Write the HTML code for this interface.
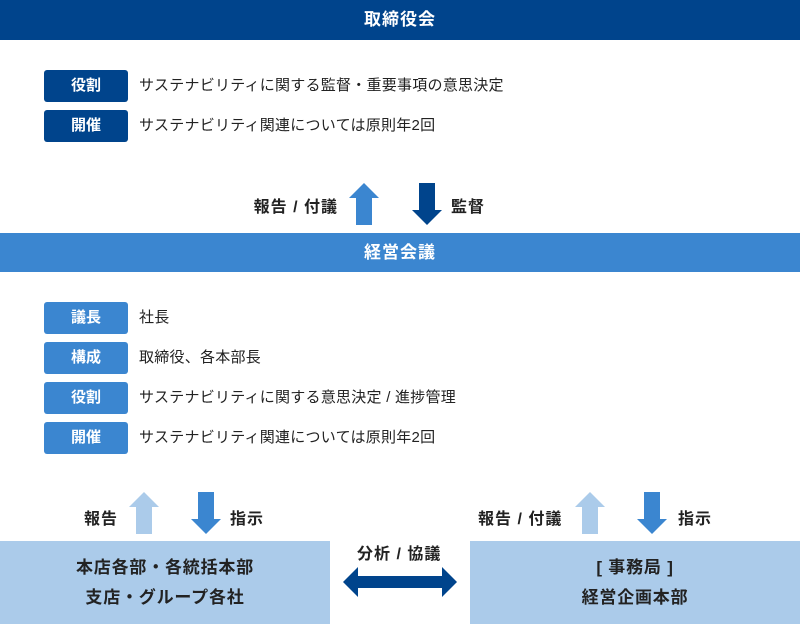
<!DOCTYPE html>
<html><head><meta charset="utf-8"><style>
body{margin:0;width:800px;height:624px;position:relative;background:#fff;font-family:"Liberation Sans","Noto Sans CJK JP",sans-serif;overflow:hidden}
.bar{position:absolute;left:0;width:800px;color:#fff;font-weight:bold;font-size:17px;letter-spacing:1px;text-align:center}
.lab{position:absolute;left:44px;width:84px;height:32px;line-height:32px;color:#fff;font-weight:bold;font-size:15px;text-align:center;border-radius:3px}
.txt{position:absolute;left:139px;font-size:15px;letter-spacing:0.25px;color:#222;line-height:32px;white-space:nowrap}
.t{position:absolute;font-size:16px;letter-spacing:1px;font-weight:bold;color:#222;white-space:nowrap}
.box{position:absolute;top:541px;width:330px;height:83px;background:#abcbea;font-size:17px;letter-spacing:0.8px;font-weight:bold;color:#222;text-align:center;line-height:30px;padding-top:12px;box-sizing:border-box}
svg{position:absolute;left:0;top:0}
</style></head><body>
<div class="bar" style="top:0;height:40px;line-height:40px;background:#00448c">取締役会</div>
<div class="lab" style="top:70px;background:#00448c">役割</div><div class="txt" style="top:70px">サステナビリティに関する監督・重要事項の意思決定</div>
<div class="lab" style="top:110px;background:#00448c">開催</div><div class="txt" style="top:110px">サステナビリティ関連については原則年2回</div>
<div class="t" style="top:193px;right:462px">報告 / 付議</div>
<div class="t" style="top:193px;left:451px">監督</div>
<div class="bar" style="top:233px;height:39px;line-height:39px;background:#3b86d0">経営会議</div>
<div class="lab" style="top:302px;background:#3b86d0">議長</div><div class="txt" style="top:302px">社長</div>
<div class="lab" style="top:342px;background:#3b86d0">構成</div><div class="txt" style="top:342px">取締役、各本部長</div>
<div class="lab" style="top:382px;background:#3b86d0">役割</div><div class="txt" style="top:382px">サステナビリティに関する意思決定 / 進捗管理</div>
<div class="lab" style="top:422px;background:#3b86d0">開催</div><div class="txt" style="top:422px">サステナビリティ関連については原則年2回</div>
<div class="t" style="top:505px;left:84px">報告</div>
<div class="t" style="top:505px;left:230px">指示</div>
<div class="t" style="top:505px;left:478px">報告 / 付議</div>
<div class="t" style="top:505px;left:678px">指示</div>
<div class="t" style="top:540px;left:357px">分析 / 協議</div>
<div class="box" style="left:0">本店各部・各統括本部<br>支店・グループ各社</div>
<div class="box" style="left:470px">[ 事務局 ]<br>経営企画本部</div>
<svg width="800" height="624">
<polygon points="364,183 379,198 372,198 372,225 356,225 356,198 349,198" fill="#3b86d0"/>
<polygon points="419,183 435,183 435,210 442,210 427,225 412,210 419,210" fill="#00448c"/>
<polygon points="144,492 159,507 152,507 152,534 136,534 136,507 129,507" fill="#abcbea"/>
<polygon points="198,492 214,492 214,519 221,519 206,534 191,519 198,519" fill="#3b86d0"/>
<polygon points="590,492 605,507 598,507 598,534 582,534 582,507 575,507" fill="#abcbea"/>
<polygon points="644,492 660,492 660,519 667,519 652,534 637,519 644,519" fill="#3b86d0"/>
<polygon points="343,582 358,567 358,576 442,576 442,567 457,582 442,597 442,588 358,588 358,597" fill="#00448c"/>
</svg>
</body></html>
